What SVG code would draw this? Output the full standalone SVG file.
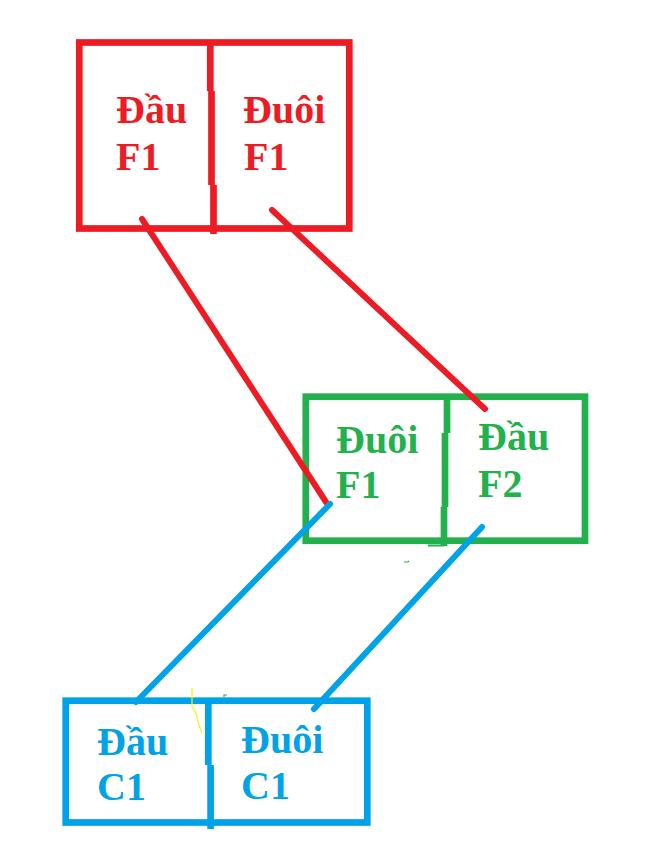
<svg xmlns="http://www.w3.org/2000/svg" width="651" height="841" viewBox="0 0 651 841">
<style>
.box{fill:none;stroke-width:6.7}
.div{fill:none;stroke-width:6.7}
.lbl{font-family:"Liberation Serif","Times New Roman",serif;font-weight:bold;font-size:40px}
.red{stroke:#ED1C24}.redt{fill:#ED1C24}
.grn{stroke:#22B14C}.grnt{fill:#22B14C}
.blu{stroke:#00A2E8}.blut{fill:#00A2E8}
.con{fill:none;stroke-width:6;stroke-linecap:round}
</style>
<rect width="651" height="841" fill="#ffffff"/>
<g id="node-F1">
<rect class="box red" x="79.3" y="42.5" width="270" height="186"/>
<path class="div red" d="M210.3 40V91M211.5 91V185M213.5 185V234"/>
<text class="lbl redt" x="116" y="123">Đầu</text>
<text class="lbl redt" x="116" y="170">F1</text>
<text class="lbl redt" x="243" y="123">Đuôi</text>
<text class="lbl redt" x="244" y="170">F1</text>
</g>
<g id="node-F2">
<rect class="box grn" x="305.8" y="396.7" width="279.2" height="144"/>
<path class="div grn" d="M447 394V433M445 433V507M444 507V546"/>
<path d="M428 545.5H444" stroke="#22B14C" stroke-width="2" fill="none"/>
<text class="lbl grnt" x="336" y="453">Đuôi</text>
<text class="lbl grnt" x="336" y="498">F1</text>
<text class="lbl grnt" x="478" y="450">Đầu</text>
<text class="lbl grnt" x="478" y="497">F2</text>
</g>
<g id="node-C1">
<rect class="box blu" x="65.7" y="700.7" width="301.6" height="121.8"/>
<path class="div blu" d="M208.3 699V765M210.6 765V829"/>
<text class="lbl blut" x="97" y="755">Đầu</text>
<text class="lbl blut" x="97" y="800">C1</text>
<text class="lbl blut" x="241" y="753">Đuôi</text>
<text class="lbl blut" x="241" y="799">C1</text>
</g>
<g id="connectors">
<path class="con red" d="M142 219L326 502"/>
<path class="con red" d="M272 210L485 409"/>
<path class="con blu" d="M330 504L136 702"/>
<path class="con blu" d="M482 527L314 709"/>
</g>
<g id="marks" fill="none" stroke-width="1.2">
<path stroke="#FFF200" d="M192 688V707L196 713L198 722L202 733"/>
<path stroke="#22B14C" d="M224 697V695H227"/>
<path stroke="#22B14C" d="M404 562H408L409 561"/>
</g>
</svg>
